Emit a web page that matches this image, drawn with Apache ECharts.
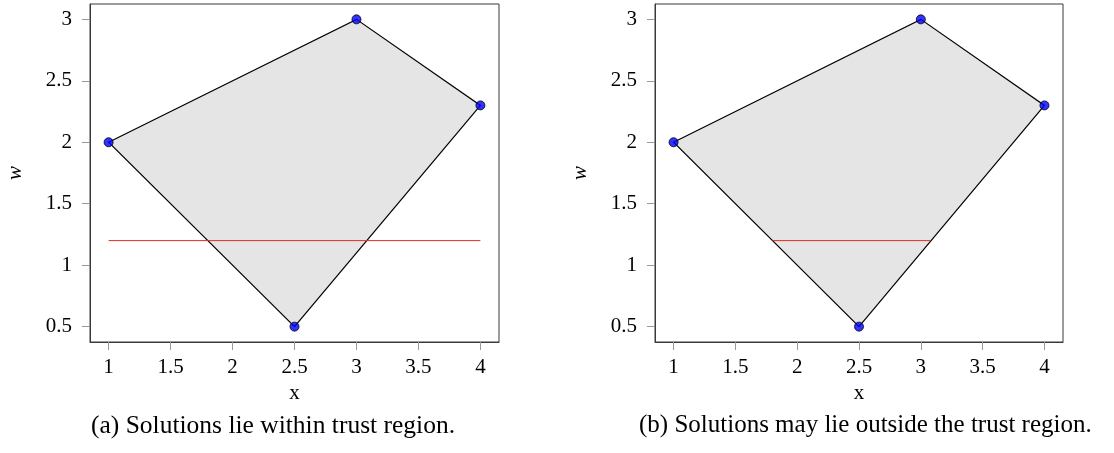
<!DOCTYPE html>
<html>
<head>
<meta charset="utf-8">
<script src="https://cdn.jsdelivr.net/npm/echarts@6/dist/echarts.min.js"></script>
<style>
  html, body { margin: 0; padding: 0; background: #fff; }
  #chart { width: 1114px; height: 453px; }
</style>
</head>
<body>
<div id="chart"></div>
<script>
// Feasible region vertices (x, w)
const vertexX = [1, 3, 4, 2.5];
const vertexW = [2, 3, 2.3, 0.5];
// Horizontal constraint level and its extent in each panel
const levelW = 1.2;
const levelSpanA = [1, 4];
const levelSpanB = [1.8, 3.08];
// Tick positions
const xTicks = [1, 1.5, 2, 2.5, 3, 3.5, 4];
const wTicks = [0.5, 1, 1.5, 2, 2.5, 3];
const captions = ['(a) Solutions lie within trust region.', '(b) Solutions may lie outside the trust region.'];

const vertices = vertexX.map((x, i) => [x, vertexW[i]]);
const serif = '"Liberation Serif", "DejaVu Serif", serif';
const tickFont = { fontFamily: serif, fontSize: 21, color: '#000' };

function fmt(v) { return String(v); }

function xAxisFor(idx) {
  return {
    gridIndex: idx, type: 'value', min: 0.85, max: 4.15,
    name: 'x', nameLocation: 'middle', nameGap: 37,
    nameTextStyle: { fontFamily: serif, fontSize: 21, color: '#000' },
    axisLine: { show: true, onZero: false, lineStyle: { color: '#3a3a3a', width: 1 } },
    axisTick: { show: true, inside: false, length: 8, customValues: xTicks, lineStyle: { color: '#999' } },
    axisLabel: { customValues: xTicks, formatter: fmt, margin: 15, ...tickFont },
    splitLine: { show: false }
  };
}
function yAxisFor(idx) {
  return {
    gridIndex: idx, type: 'value', min: 0.375, max: 3.125,
    name: 'w', nameLocation: 'middle', nameGap: 64, nameRotate: 90,
    nameTextStyle: { fontFamily: serif, fontSize: 21, fontStyle: 'italic', color: '#000' },
    axisLine: { show: true, onZero: false, lineStyle: { color: '#3a3a3a', width: 1 } },
    axisTick: { show: true, inside: false, length: 8, customValues: wTicks, lineStyle: { color: '#999' } },
    axisLabel: { customValues: wTicks, formatter: fmt, margin: 18, ...tickFont },
    splitLine: { show: false }
  };
}

function regionSeries(idx) {
  return {
    type: 'custom', xAxisIndex: idx, yAxisIndex: idx, z: 1,
    data: [0],
    renderItem: function (params, api) {
      const pts = vertices.map(v => api.coord(v));
      return {
        type: 'polygon',
        shape: { points: pts },
        style: { fill: '#e5e5e5', stroke: '#000', lineWidth: 1.2 }
      };
    }
  };
}
function levelSeries(idx, span) {
  return {
    type: 'line', xAxisIndex: idx, yAxisIndex: idx, z: 2,
    data: [[span[0], levelW], [span[1], levelW]],
    showSymbol: false, silent: true,
    lineStyle: { color: '#e0301e', width: 1 }
  };
}
function vertexSeries(idx) {
  return {
    type: 'scatter', xAxisIndex: idx, yAxisIndex: idx, z: 3,
    data: vertices, symbol: 'circle', symbolSize: 9,
    itemStyle: { color: '#0000ff', borderColor: '#000', borderWidth: 1 }
  };
}

const chart = echarts.init(document.getElementById('chart'), null, { renderer: 'canvas' });
chart.setOption({
  animation: false,
  backgroundColor: '#fff',
  grid: [
    { left: 90, right: 615, top: 4, bottom: 111, show: true, borderColor: '#3a3a3a', borderWidth: 1, backgroundColor: 'transparent' },
    { left: 655, right: 51, top: 4, bottom: 111, show: true, borderColor: '#3a3a3a', borderWidth: 1, backgroundColor: 'transparent' }
  ],
  xAxis: [xAxisFor(0), xAxisFor(1)],
  yAxis: [yAxisFor(0), yAxisFor(1)],
  series: [
    regionSeries(0), levelSeries(0, levelSpanA), vertexSeries(0),
    regionSeries(1), levelSeries(1, levelSpanB), vertexSeries(1)
  ],
  graphic: [
    { type: 'text', left: 91, top: 413, style: { text: captions[0], font: '25.5px ' + serif, fill: '#000' } },
    { type: 'text', left: 639, top: 413, style: { text: captions[1], font: '25px ' + serif, fill: '#000' } }
  ]
});
</script>
</body>
</html>
